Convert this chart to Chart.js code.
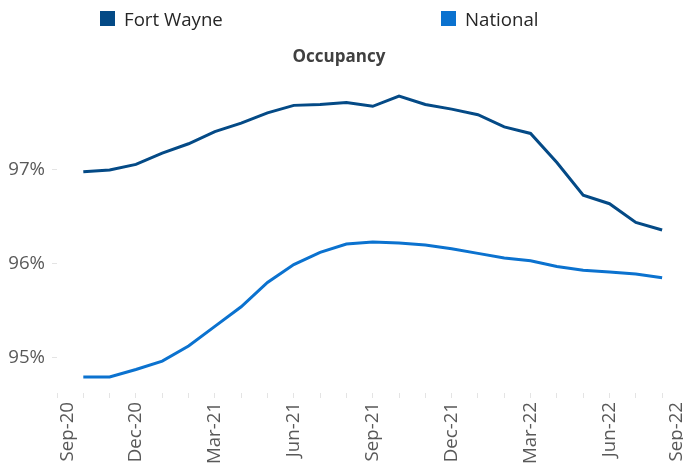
<!DOCTYPE html>
<html>
<head>
<meta charset="utf-8">
<script src="https://cdn.jsdelivr.net/npm/chart.js@4.4.0/dist/chart.umd.min.js"></script>
<style>
html,body{margin:0;padding:0;background:#fff;overflow:hidden}
#wrap{position:relative;width:683px;height:467px}
#c{position:absolute;left:0;top:0}
.lg{position:absolute;top:6px;height:25px;display:flex;align-items:center;font-family:"Open Sans",sans-serif;font-size:18.67px;color:#262626;white-space:nowrap}
.lg i{display:inline-block;width:15px;height:15px;margin-right:9px}
</style>
</head>
<body>
<div id="wrap">
<canvas id="c" width="683" height="467"></canvas>
</div>
<script>
// ---- data ----
const months = ['Sep-20','Oct-20','Nov-20','Dec-20','Jan-21','Feb-21','Mar-21','Apr-21','May-21','Jun-21','Jul-21','Aug-21',
                'Sep-21','Oct-21','Nov-21','Dec-21','Jan-22','Feb-22','Mar-22','Apr-22','May-22','Jun-22','Jul-22','Aug-22','Sep-22'];
const fortWayne = [null, 96.98, 97.00, 97.06, 97.18, 97.28, 97.41, 97.50, 97.61, 97.69, 97.70, 97.72,
                   97.68, 97.79, 97.70, 97.65, 97.59, 97.46, 97.39, 97.08, 96.73, 96.64, 96.44, 96.36, null];
const national  = [null, 94.79, 94.79, 94.87, 94.96, 95.12, 95.33, 95.54, 95.80, 95.99, 96.12, 96.21,
                   96.23, 96.22, 96.20, 96.16, 96.11, 96.06, 96.03, 95.97, 95.93, 95.91, 95.89, 95.85, null];
const xTickLabels = ['Sep-20','Dec-20','Mar-21','Jun-21','Sep-21','Dec-21','Mar-22','Jun-22','Sep-22'];
const yTicks = [95, 96, 97];
const seriesNames = ['Fort Wayne', 'National'];
const seriesColors = ['#044A86', '#0B72CF'];

// ---- legend (HTML text) ----
const legendLeft = [100, 441];
seriesNames.forEach((n, i) => {
  const d = document.createElement('div');
  d.className = 'lg';
  d.style.left = legendLeft[i] + 'px';
  const sw = document.createElement('i');
  sw.style.background = seriesColors[i];
  d.appendChild(sw);
  d.appendChild(document.createTextNode(n));
  document.getElementById('wrap').appendChild(d);
});

const toPts = arr => arr.map((v, i) => ({x: i, y: v}));

const labelPos = {};
xTickLabels.forEach(l => { labelPos[months.indexOf(l)] = l; });
const firstNudge = 0.4, lastPos = 23.55;

const tickFont = {family: '"Open Sans", sans-serif', size: 18.67};

new Chart(document.getElementById('c'), {
  type: 'line',
  data: {
    datasets: [
      {label: seriesNames[0], data: toPts(fortWayne), borderColor: seriesColors[0], backgroundColor: seriesColors[0],
       borderWidth: 3, pointRadius: 0, tension: 0},
      {label: seriesNames[1], data: toPts(national), borderColor: seriesColors[1], backgroundColor: seriesColors[1],
       borderWidth: 3, pointRadius: 0, tension: 0}
    ]
  },
  options: {
    responsive: false,
    animation: false,
    devicePixelRatio: 1,
    layout: {padding: {left: 0, right: 5.1, top: 0, bottom: 0}},
    plugins: {
      legend: {display: false},
      tooltip: {enabled: false},
      title: {
        display: true,
        text: 'Occupancy',
        color: '#404040',
        font: {family: '"Open Sans", sans-serif', size: 17, weight: 'bold', lineHeight: 1.2},
        padding: {top: 46.8, bottom: 18.5}
      }
    },
    scales: {
      x: {
        type: 'linear',
        min: 0,
        max: 23.6,
        border: {display: false},
        grid: {
          drawOnChartArea: false, drawTicks: true, tickLength: 5, lineWidth: 1,
          color: ctx => (ctx.tick && Number.isInteger(ctx.tick.value)) ? '#e4e4e4' : 'rgba(0,0,0,0)'
        },
        afterBuildTicks: scale => {
          const t = [];
          for (let i = 0; i < months.length - 1; i++) {
            t.push({value: i});
            if (i === 0) t.push({value: firstNudge});
          }
          t.push({value: lastPos});
          scale.ticks = t;
        },
        afterFit: scale => {
          scale.height = 74;
          scale.paddingLeft = 0; scale.paddingRight = 0;
          scale.paddingTop = 0; scale.paddingBottom = 0;
        },
        ticks: {
          autoSkip: false,
          minRotation: 90,
          maxRotation: 90,
          padding: 4,
          color: '#595959',
          font: tickFont,
          callback: v => {
            if (v === firstNudge) return months[0];
            if (v === lastPos) return months[months.length - 1];
            if (v !== 0 && Number.isInteger(v) && labelPos[v]) return labelPos[v];
            return '';
          }
        }
      },
      y: {
        min: 94.619,
        max: 97.9,
        border: {display: false},
        grid: {drawOnChartArea: false, drawTicks: true, tickLength: 5, color: '#e4e4e4'},
        afterBuildTicks: scale => { scale.ticks = yTicks.map(v => ({value: v})); },
        afterFit: scale => {
          scale.width = 57;
          scale.paddingTop = 0; scale.paddingBottom = 0;
        },
        ticks: {
          padding: 7,
          color: '#595959',
          font: tickFont,
          callback: v => v + '%'
        }
      }
    }
  }
});
</script>
</body>
</html>
